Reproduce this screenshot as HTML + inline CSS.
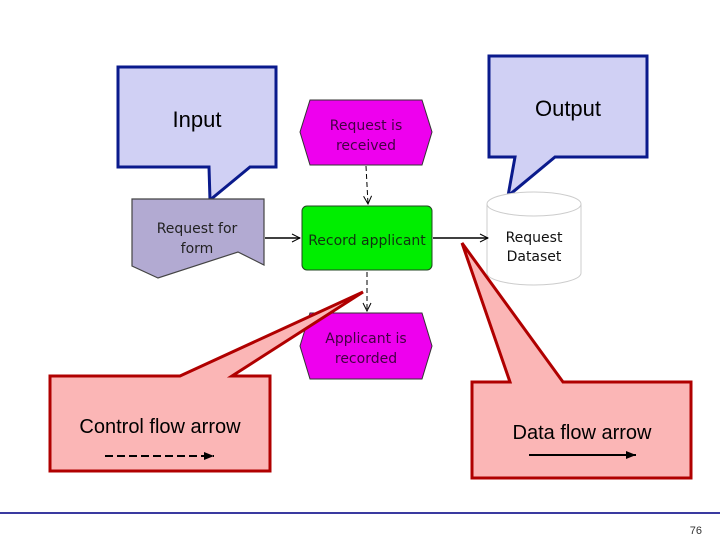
<!DOCTYPE html>
<html><head><style>body{margin:0;background:#fff}svg{display:block}</style></head><body>
<svg width="720" height="540" viewBox="0 0 720 540" xmlns="http://www.w3.org/2000/svg">
<defs><marker id="a" markerWidth="10" markerHeight="10" refX="9" refY="5" orient="auto" markerUnits="userSpaceOnUse"><path d="M1,1 L9,5 L1,9" fill="none" stroke="#000" stroke-width="1"/></marker>
<marker id="b" markerWidth="10" markerHeight="8" refX="10" refY="4" orient="auto" markerUnits="userSpaceOnUse"><path d="M0,0 L10,4 L0,8 Z" fill="#000"/></marker></defs>
<path d="M118,67 H276 V167 H250 L210,200 L209,167 H118 Z" fill="#d0d0f4" stroke="#0a1a8c" stroke-width="3"/>
<text x="197" y="127" font-family="Liberation Sans, sans-serif" font-size="22" text-anchor="middle">Input</text>
<path d="M489,56 H647 V157 H555 L508,196 L515,157 H489 Z" fill="#d0d0f4" stroke="#0a1a8c" stroke-width="3"/>
<text x="568" y="116" font-family="Liberation Sans, sans-serif" font-size="22" text-anchor="middle">Output</text>
<path d="M132,199 H264 V265 L238,252 L158,278 L132,266 Z" fill="#b2aad2" stroke="#444" stroke-width="1.2"/>
<text font-family="DejaVu Sans, sans-serif" font-size="14" text-anchor="middle" fill="#222"><tspan x="197" y="233">Request for</tspan><tspan x="197" y="253">form</tspan></text>
<path d="M300,132 L310,100 L422,100 L432,132 L422,165 L310,165 Z" fill="#ee00ee" stroke="#333"/>
<text font-family="DejaVu Sans, sans-serif" font-size="14" text-anchor="middle" fill="#440044"><tspan x="366" y="130">Request is</tspan><tspan x="366" y="150">received</tspan></text>
<path d="M300,346 L310,313 L422,313 L432,346 L422,379 L310,379 Z" fill="#ee00ee" stroke="#333"/>
<text font-family="DejaVu Sans, sans-serif" font-size="14" text-anchor="middle" fill="#440044"><tspan x="366" y="343">Applicant is</tspan><tspan x="366" y="363">recorded</tspan></text>
<rect x="302" y="206" width="130" height="64" rx="5" fill="#00ee00" stroke="#224422"/>
<text x="367" y="245" font-family="DejaVu Sans, sans-serif" font-size="14" text-anchor="middle" fill="#113311">Record applicant</text>
<path d="M487,204 V273 A47,12 0 0 0 581,273 V204" fill="#fff" stroke="#ccc"/>
<ellipse cx="534" cy="204" rx="47" ry="12" fill="#fff" stroke="#ccc"/>
<text font-family="DejaVu Sans, sans-serif" font-size="14" text-anchor="middle" fill="#111"><tspan x="534" y="242">Request</tspan><tspan x="534" y="261">Dataset</tspan></text>
<line x1="265" y1="238" x2="300" y2="238" stroke="#000" stroke-width="1.5" marker-end="url(#a)"/>
<line x1="433" y1="238" x2="488" y2="238" stroke="#000" stroke-width="1.5" marker-end="url(#a)"/>
<line x1="366" y1="166" x2="368" y2="204" stroke="#000" stroke-dasharray="5,3" marker-end="url(#a)"/>
<line x1="367" y1="272" x2="367" y2="311" stroke="#000" stroke-dasharray="5,3" marker-end="url(#a)"/>
<path d="M50,376 H180 L363,292 L232,376 H270 V471 H50 Z" fill="#fbb6b6" stroke="#b00000" stroke-width="3"/>
<text x="160" y="433" font-family="Liberation Sans, sans-serif" font-size="20" text-anchor="middle">Control flow arrow</text>
<line x1="105" y1="456" x2="214" y2="456" stroke="#000" stroke-width="2" stroke-dasharray="8,4" marker-end="url(#b)"/>
<path d="M472,382 H510 L462,243 L563,382 H691 V478 H472 Z" fill="#fbb6b6" stroke="#b00000" stroke-width="3"/>
<text x="582" y="439" font-family="Liberation Sans, sans-serif" font-size="20" text-anchor="middle">Data flow arrow</text>
<line x1="529" y1="455" x2="636" y2="455" stroke="#000" stroke-width="2" marker-end="url(#b)"/>
<line x1="0" y1="513" x2="720" y2="513" stroke="#3a3aa0" stroke-width="2"/>
<text x="702" y="534" font-family="Liberation Sans, sans-serif" font-size="11" text-anchor="end" fill="#333">76</text>
</svg>
</body></html>
